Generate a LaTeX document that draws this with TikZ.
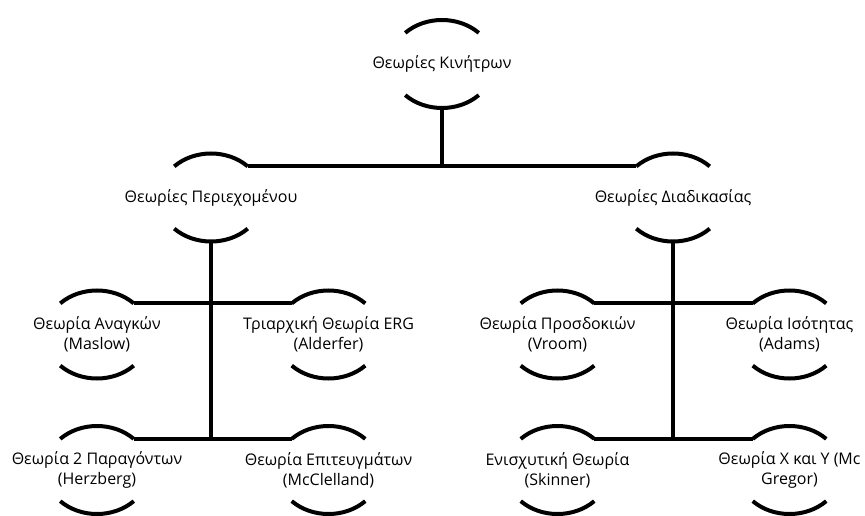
\documentclass[tikz,border=0pt]{standalone}
\usepackage{fontspec}
\setmainfont{Open Sans}
\begin{document}
\begin{tikzpicture}[x=1pt,y=1pt,
   theory/.style={align=center,inner sep=0pt,font=\fontsize{16}{20}\selectfont},
   link/.style={line width=4pt}]
\useasboundingbox (0,0) rectangle (865,-516);

\node [theory] (kin) at (442,-64) {Θεωρίες Κινήτρων};
\node [theory] (per) at (211,-197.5) {Θεωρίες Περιεχομένου};
\node [theory] (dia) at (673,-197.5) {Θεωρίες Διαδικασίας};
\node [theory] (mas) at (97,-334.5) {Θεωρία Αναγκών\\(Maslow)};
\node [theory] (ald) at (328.5,-334.5) {Τριαρχική Θεωρία ERG\\(Alderfer)};
\node [theory] (vro) at (557.5,-334.5) {Θεωρία Προσδοκιών\\(Vroom)};
\node [theory] (ada) at (789.5,-334.5) {Θεωρία Ισότητας\\(Adams)};
\node [theory] (her) at (97,-470) {Θεωρία 2 Παραγόντων\\(Herzberg)};
\node [theory] (mcc) at (328.5,-470) {Θεωρία Επιτευγμάτων\\(McClelland)};
\node [theory] (ski) at (557.5,-470) {Ενισχυτική Θεωρία\\(Skinner)};
\node [theory] (mcg) at (789.5,-470) {Θεωρία Χ και Υ (Mc\\Gregor)};

\foreach \n in {kin,per,dia,mas,ald,vro,ada,her,mcc,ski,mcg}
{
   \draw [link] ([shift={(45:52 and 44)}]\n.center) arc [start angle=45, end angle=135, x radius=52, y radius=44];
   \draw [link] ([shift={(225:52 and 44)}]\n.center) arc [start angle=225, end angle=315, x radius=52, y radius=44];
   \coordinate (\n-l) at ([shift={(135:52 and 44)}]\n.center);
   \coordinate (\n-r) at ([shift={(45:52 and 44)}]\n.center);
   \coordinate (\n-b) at ([shift={(270:52 and 44)}]\n.center);
}

\draw [link] (kin-b) -- (kin-b |- per-r);
\draw [link] (per-r) -- (dia-l);

\draw [link] (per-b) -- (per-b |- her-r);
\draw [link] (mas-r) -- (ald-l);
\draw [link] (her-r) -- (mcc-l);

\draw [link] (dia-b) -- (dia-b |- ski-r);
\draw [link] (vro-r) -- (ada-l);
\draw [link] (ski-r) -- (mcg-l);

\end{tikzpicture}
\end{document}
